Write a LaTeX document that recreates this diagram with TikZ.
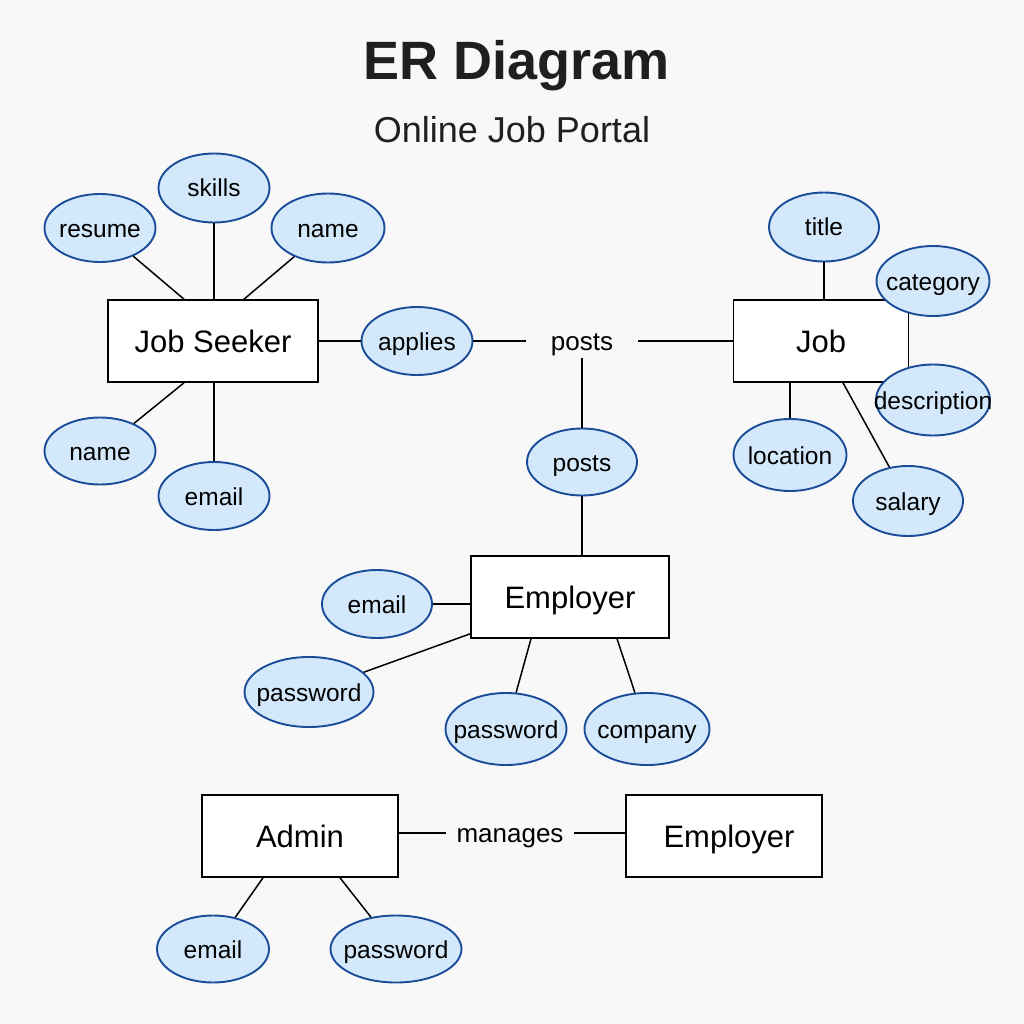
\documentclass[tikz,border=0pt]{standalone}
\usepackage{fontspec}
\setmainfont{Liberation Sans}
\usetikzlibrary{shapes.geometric}
\definecolor{bgc}{HTML}{F8F8F8}
\definecolor{attrfill}{HTML}{D3E9FB}
\definecolor{attrdraw}{HTML}{1A4C98}
\newcommand{\zw}[1]{\makebox[0pt]{#1}}
\tikzset{
  entity/.style={draw=black, fill=white, line width=1.6pt, inner sep=0pt, text height=24pt, text depth=2pt, font=\fontsize{31}{35}\selectfont},
  attr/.style={ellipse, draw=attrdraw, fill=attrfill, line width=1.9pt, inner sep=0pt, text height=18pt, text depth=0pt, font=\fontsize{24.5}{28}\selectfont},
  rel/.style={inner ysep=4pt, text height=22pt, text depth=4pt, font=\fontsize{26}{30}\selectfont},
  conn/.style={draw=black, line width=1.5pt}
}
\begin{document}
\begin{tikzpicture}[x=1pt,y=-1pt]
\fill[bgc] (0,0) rectangle (1024,1024);
\useasboundingbox (0,0) rectangle (1024,1024);

% titles
\node[anchor=base, font=\bfseries\fontsize{54}{60}\selectfont, text=black!88] (title) at (517,80) {ER Diagram};
\node[anchor=base, font=\fontsize{36}{42}\selectfont, text=black!88] (subtitle) at (512,143) {Online Job Portal};

% Job Seeker
\node[entity, minimum width=210pt, minimum height=82pt] (js) at (213,341) {Job Seeker};
\node[attr, minimum width=111pt, minimum height=68pt] (resume) at (100,228) {\zw{resume}};
\node[attr, minimum width=111pt, minimum height=69pt] (skills) at (214,188) {\zw{skills}};
\node[attr, minimum width=113pt, minimum height=69pt] (name1) at (328,228) {\zw{name}};
\node[attr, minimum width=111pt, minimum height=67pt] (name2) at (100,451) {\zw{name}};
\node[attr, minimum width=111pt, minimum height=68pt] (email1) at (214,496) {\zw{email}};
\node[attr, minimum width=111pt, minimum height=68pt] (applies) at (417,341) {\zw{applies}};

\draw[conn] (resume) -- ([xshift=-29pt]js.north);
\draw[conn] (skills) -- (skills |- js.north);
\draw[conn] (name1) -- ([xshift=31pt]js.north);
\draw[conn] (name2) -- ([xshift=-29pt]js.south);
\draw[conn] (email1) -- (email1 |- js.south);
\draw[conn] (js) -- (applies);

% posts relation
\node[rel, inner xsep=25pt] (postsl) at (582,341) {posts};
\draw[conn] (applies) -- (postsl.west);

% Job
\node[entity, minimum width=175pt, minimum height=82pt] (job) at (821,341) {Job};
\draw[conn] (postsl.east) -- (job.west);
\node[attr, minimum width=110pt, minimum height=69pt] (titlea) at (824,227) {\zw{title}};
\node[attr, minimum width=113pt, minimum height=70pt] (category) at (933,281) {\zw{category}};
\node[attr, minimum width=114pt, minimum height=71pt] (description) at (933,400) {\zw{description}};
\node[attr, minimum width=113pt, minimum height=72pt] (location) at (790,455) {\zw{location}};
\node[attr, minimum width=110pt, minimum height=70pt] (salary) at (908,501) {\zw{salary}};
\draw[conn] (titlea) -- (titlea |- job.north);
\draw[conn] (location) -- (location |- job.south);
\draw[conn] (salary) -- ([xshift=22pt]job.south);

% Employer
\node[entity, minimum width=198pt, minimum height=82pt] (emp) at (570,597) {Employer};
\node[attr, minimum width=110pt, minimum height=67pt] (posts2) at (582,462) {\zw{posts}};
\draw[conn] (postsl.south) -- (posts2);
\draw[conn] (posts2) -- (posts2 |- emp.north);
\node[attr, minimum width=110pt, minimum height=68pt] (email2) at (377,604) {\zw{email}};
\node[attr, minimum width=129pt, minimum height=70pt] (pw1) at (309,692) {\zw{password}};
\node[attr, minimum width=121pt, minimum height=72pt] (pw2) at (506,729) {\zw{password}};
\node[attr, minimum width=125pt, minimum height=72pt] (company) at (647,729) {\zw{company}};
\draw[conn] (email2) -- (email2 -| emp.west);
\draw[conn] (pw1) -- ([yshift=5pt]emp.south west);
\draw[conn] (pw2) -- ([xshift=-39pt]emp.south);
\draw[conn] (company) -- ([xshift=47pt]emp.south);

% Admin manages Employer
\node[entity, minimum width=196pt, minimum height=82pt] (admin) at (300,836) {Admin};
\node[entity, minimum width=196pt, minimum height=82pt] (emp2) at (724,836) {\hspace{10pt}Employer};
\node[rel, inner xsep=10pt] (manages) at (510,833) {manages};
\draw[conn] (admin.east |- manages) -- (manages.west);
\draw[conn] (manages.east) -- (emp2.west |- manages);
\node[attr, minimum width=112pt, minimum height=67pt] (email3) at (213,949) {\zw{email}};
\node[attr, minimum width=131pt, minimum height=67pt] (pw3) at (396,949) {\zw{password}};
\draw[conn] (email3) -- ([xshift=-37pt]admin.south);
\draw[conn] (pw3) -- ([xshift=40pt]admin.south);
\end{tikzpicture}
\end{document}
